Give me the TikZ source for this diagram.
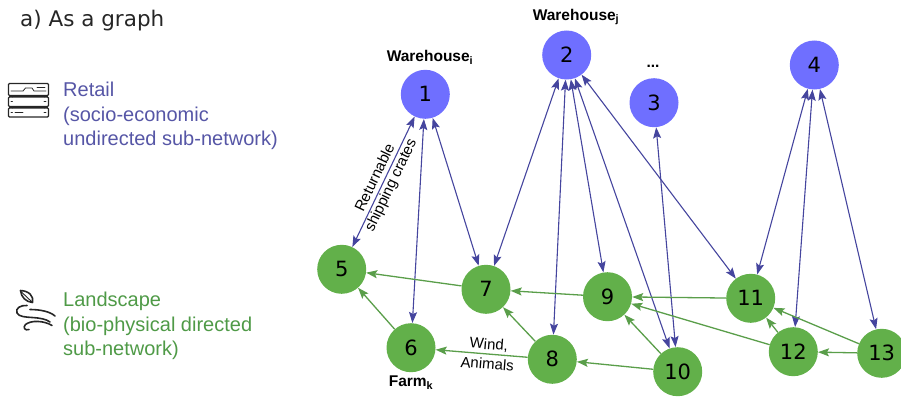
\documentclass[tikz,border=0pt]{standalone}
\usepackage{fontspec}
\setmainfont{Liberation Sans}
\newfontfamily\numfont{DejaVu Sans}
\usetikzlibrary{arrows.meta}

\definecolor{retailfill}{HTML}{6F6FFF}
\definecolor{retailtext}{HTML}{5656A6}
\definecolor{retailedge}{HTML}{45459E}
\definecolor{landfill}{HTML}{62B04A}
\definecolor{landtext}{HTML}{4F9A47}
\definecolor{landedge}{HTML}{5A9E4A}

\begin{document}
\begin{tikzpicture}[x=1pt,y=-1pt,
    depot/.style={circle, fill=retailfill, minimum size=49pt, inner sep=0pt,
        font=\numfont\fontsize{21}{21}\selectfont},
    farm/.style={circle, fill=landfill, minimum size=49pt, inner sep=0pt,
        font=\numfont\fontsize{21}{21}\selectfont},
    trade/.style={draw=retailedge, line width=1.1pt,
        {Stealth[length=11pt,width=8pt,inset=2pt]}-{Stealth[length=11pt,width=8pt,inset=2pt]}},
    spread/.style={draw=landedge, line width=1.3pt,
        -{Stealth[length=11pt,width=8pt,inset=2pt]}},
    tag/.style={font=\bfseries\fontsize{15.5}{15.5}\selectfont, inner sep=0pt},
    note/.style={font=\fontsize{15}{17.5}\selectfont, align=center, inner sep=1pt},
    legend/.style={anchor=north west, align=left, inner sep=0pt,
        font=\fontsize{20}{24.5}\selectfont},
    icon/.style={draw=black!85, line width=1.6pt, line cap=round, line join=round}
]

    \useasboundingbox (0,0) rectangle (901,396);

    \node[anchor=base west, inner sep=0pt, text=black!85,
        font=\numfont\fontsize{21.5}{21.5}\selectfont] (title) at (20,27) {a) As a graph};

    % legend
    \draw[icon, line width=1.3pt, rounded corners=1pt] (8.5,83.5) rectangle (48.5,95.5)
        (8.5,97) rectangle (48.5,106.5) (8.5,108) rectangle (48.5,117);
    \draw[icon, line width=0.8pt] (11,91) -- (23,91) -- (25.5,88) -- (32,88) -- (34,91) -- (46,91)
        (37,87.5) -- (45,87.5);
    \draw[icon, line width=0.8pt] (12,95.5) -- (12,97) (44,95.5) -- (44,97)
        (12,106.5) -- (12,108) (44,106.5) -- (44,108)
        (11,101.5) -- (12.5,101.5) (44,101.5) -- (46,101.5)
        (11,112.5) -- (12.5,112.5) (15,112.5) -- (23,112.5) (44,112.5) -- (46,112.5);
    \node[legend, text=retailtext] (retail) at (63,82)
        {Retail\\(socio-economic\\undirected sub-network)};

    \draw[icon] (20.5,290.5) .. controls (29,291) and (34,296) .. (32.5,302.5)
        .. controls (26,302) and (21,297) .. (20.5,290.5);
    \draw[icon, line width=0.9pt] (22,292.5) -- (31.5,301.5);
    \draw[icon] (27,305.5) .. controls (21,305) and (15,308) .. (17,313)
        .. controls (19,317) and (26,317) .. (32,317.5) .. controls (40,318) and (46,319) .. (50,322);
    \draw[icon] (30,309.5) .. controls (40,309.5) and (50,311.5) .. (55,316);
    \draw[icon] (52,325.5) .. controls (44,320.5) and (31,320) .. (25.5,324.5)
        .. controls (22.5,327.5) and (25,331) .. (29,329.5);
    \node[legend, text=landtext] (landscape) at (63,292)
        {Landscape\\(bio-physical directed\\sub-network)};

    % warehouses
    \node[depot] (n1) at (425.3,94.3) {1};
    \node[depot] (n2) at (566.7,55) {2};
    \node[depot] (n3) at (654,102.7) {3};
    \node[depot] (n4) at (814.3,65) {4};

    % farms
    \node[farm] (n5) at (341.7,269.3) {5};
    \node[farm] (n6) at (411,347.7) {6};
    \node[farm] (n7) at (486,289.3) {7};
    \node[farm] (n8) at (552.3,359.3) {8};
    \node[farm] (n9) at (607.5,296.7) {9};
    \node[farm] (n10) at (677.7,371.7) {10};
    \node[farm] (n11) at (750.7,298.3) {11};
    \node[farm] (n12) at (793.3,351.7) {12};
    \node[farm] (n13) at (881.7,353.3) {13};

    \node[tag] (wi) at (430,57) {Warehouse\textsubscript{i}};
    \node[tag] (wj) at (576,17) {Warehouse\textsubscript{j}};
    \node[tag] (dots) at (653,66) {...};
    \node[tag] (fk) at (411,383) {Farm\textsubscript{k}};

    % retail links
    \draw[trade] (n1) -- (n5) node[note, midway, sloped] {Returnable\\shipping crates};
    \draw[trade] (n1) -- (n6);
    \draw[trade] (n1) -- (n7);
    \draw[trade] (n2) -- (n7);
    \draw[trade] (n2) -- (n8);
    \draw[trade] (n2) -- (n9);
    \draw[trade] (n2) -- (n10);
    \draw[trade] (n2) -- (n11);
    \draw[trade] (n3) -- (n10);
    \draw[trade] (n4) -- (n11);
    \draw[trade] (n4) -- (n12);
    \draw[trade] (n4) -- (n13);

    % landscape flows
    \draw[spread] (n7) -- (n5);
    \draw[spread] (n6) -- (n5);
    \draw[spread] (n9) -- (n7);
    \draw[spread] (n8) -- (n7);
    \draw[spread] (n8) -- (n6) node[note, pos=0.43, sloped, font=\fontsize{15}{20}\selectfont] {Wind,\\Animals};
    \draw[spread] (n10) -- (n8);
    \draw[spread] (n10) -- (n9);
    \draw[spread] (n11) -- (n9);
    \draw[spread] (n12) -- (n9);
    \draw[spread] (n12) -- (n11);
    \draw[spread] (n13) -- (n11);
    \draw[spread] (n13) -- (n12);

\end{tikzpicture}
\end{document}
